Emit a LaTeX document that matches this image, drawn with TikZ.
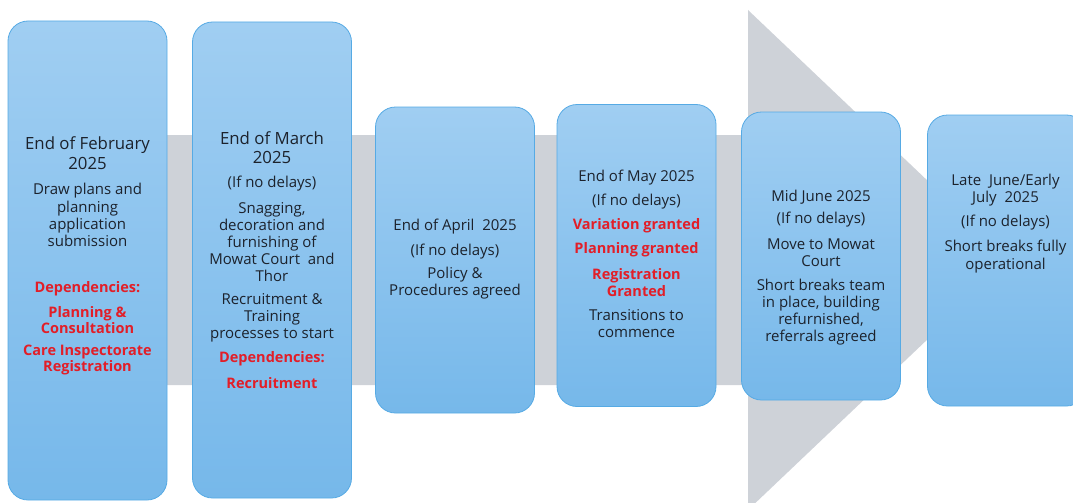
\documentclass[tikz,border=0pt]{standalone}
\usepackage{fontspec}
\setmainfont{Open Sans}
\definecolor{boxtop}{RGB}{160,206,242}
\definecolor{boxbot}{RGB}{118,184,234}
\definecolor{boxedge}{RGB}{86,170,228}
\definecolor{arrowgrey}{RGB}{206,210,216}
\definecolor{ink}{RGB}{28,34,44}
\definecolor{alert}{RGB}{226,30,40}
\tikzset{
  box/.style={rounded corners=20pt, draw=boxedge, line width=0.8pt,
    top color=boxtop, bottom color=boxbot, minimum width=159pt, inner sep=0pt},
  txt/.style={align=center, text=ink, inner sep=0pt, font=\fontsize{15}{17.2}\selectfont},
  ttl/.style={txt, font=\fontsize{16.8}{19.5}\selectfont},
  dep/.style={align=center, text=alert, inner sep=0pt, font=\bfseries\fontsize{14.5}{16.5}\selectfont},
}
\begin{document}
\begin{tikzpicture}[x=1pt,y=-1pt]
\useasboundingbox (0,0) rectangle (1073,503);
\begin{scope}
\clip (0,0) rectangle (1073,503);
% background arrow
\fill[arrowgrey] (100,135) -- (748,135) -- (748,10) -- (1011,260) -- (748,510) -- (748,385) -- (100,385) -- cycle;
% boxes
\node[box, minimum height=479pt] (b1) at (87.5,260.5) {};
\node[box, minimum height=476pt] (b2) at (272,260) {};
\node[box, minimum height=306pt] (b3) at (455,260) {};
\node[box, minimum height=302pt] (b4) at (636.5,255.5) {};
\node[box, minimum height=288pt] (b5) at (821,256) {};
\node[box, minimum height=291pt] (b6) at (1007,260.5) {};
\end{scope}
% box 1
\node[ttl] (t1a) at (87.5,153) {End of February\\2025};
\node[txt] (t1b) at (87.5,215) {Draw plans and\\planning\\application\\submission};
\node[dep] (t1c) at (87.5,289) {Dependencies:};
\node[dep, font=\bfseries\fontsize{14.5}{16}\selectfont] (t1d) at (87.5,320) {Planning \&\\Consultation};
\node[dep, font=\bfseries\fontsize{14.5}{16}\selectfont] (t1e) at (87.5,360) {Care Inspectorate\\Registration};
% box 2
\node[ttl] (t2a) at (272,147.5) {End of March\\2025};
\node[txt] (t2b) at (272,184) {(If no delays)};
\node[txt] (t2c) at (272,242) {Snagging,\\decoration and\\furnishing of\\Mowat Court\ \ and\\Thor};
\node[txt] (t2d) at (272,318) {Recruitment \&\\Training\\processes to start};
\node[dep] (t2e) at (272,359) {Dependencies:};
\node[dep] (t2f) at (272,383) {Recruitment};
% box 3
\node[txt] (t3a) at (455,227) {End of April\ \ 2025};
\node[txt] (t3b) at (455,252) {(If no delays)};
\node[txt] (t3c) at (455,283.5) {Policy \&\\Procedures agreed};
% box 4
\node[txt] (t4a) at (636.5,178) {End of May 2025};
\node[txt] (t4b) at (636.5,202) {(If no delays)};
\node[dep] (t4c) at (636.5,226) {Variation granted};
\node[dep] (t4d) at (636.5,250) {Planning granted};
\node[dep] (t4e) at (636.5,282.5) {Registration\\Granted};
\node[txt] (t4f) at (636.5,323.5) {Transitions to\\commence};
% box 5
\node[txt] (t5a) at (821,197) {Mid June 2025};
\node[txt] (t5b) at (821,220) {(If no delays)};
\node[txt] (t5c) at (821,252.5) {Move to Mowat\\Court};
\node[txt] (t5d) at (821,312) {Short breaks team\\in place, building\\refurnished,\\referrals agreed};
% box 6
\node[txt] (t6a) at (1005.5,190.5) {Late\ \ June/Early\\July\ \ 2025};
\node[txt] (t6b) at (1005.5,223) {(If no delays)};
\node[txt] (t6c) at (1005.5,256.5) {Short breaks fully\\operational};
\end{tikzpicture}
\end{document}
